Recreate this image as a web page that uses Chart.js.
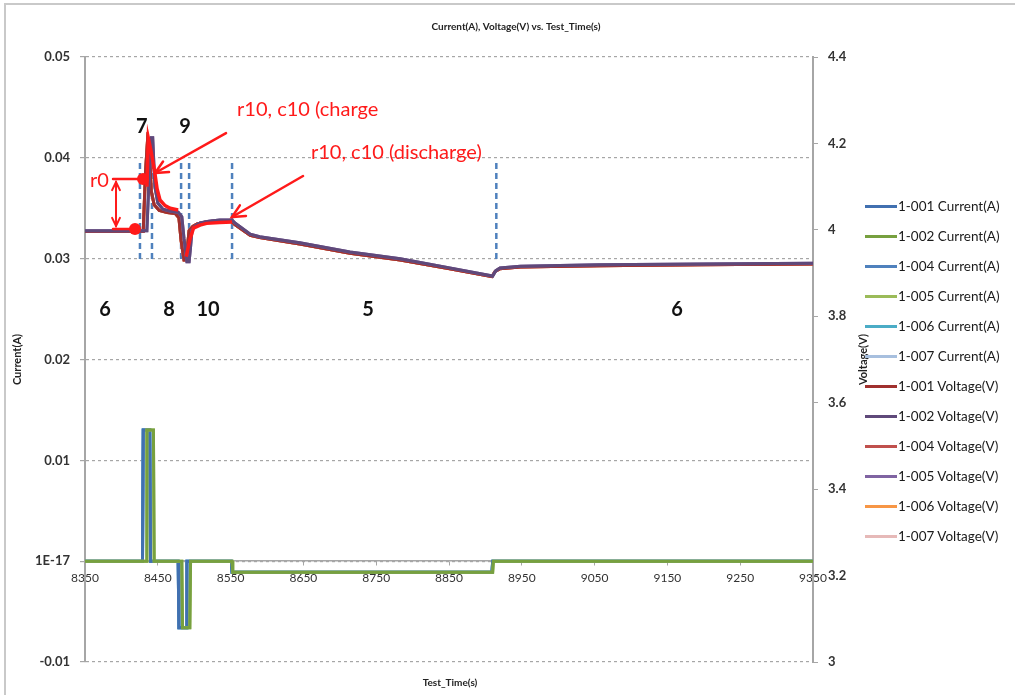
<!DOCTYPE html>
<html>
<head>
<meta charset="utf-8">
<title>Current(A), Voltage(V) vs. Test_Time(s)</title>
<script src="https://cdn.jsdelivr.net/npm/chart.js@4.4.1/dist/chart.umd.min.js"></script>
<style>
  html, body { margin: 0; padding: 0; background: #fff; }
  #wrap { position: relative; width: 1015px; height: 695px; overflow: hidden; }
  #frame { position: absolute; left: 4px; top: 3px; width: 1100px; height: 800px;
           border-left: 2px solid #c9c9c9; border-top: 2px solid #c9c9c9; pointer-events: none; }
  #legend { position: absolute; left: 865px; top: 191px; font: 13.5px Lato, sans-serif; color: #1a1a1a; }
  .row { height: 30px; display: flex; align-items: center; white-space: nowrap; }
  .swatch { display: inline-block; width: 32px; height: 3px; margin-right: 1px; }
</style>
</head>
<body>
<div id="wrap">
  <canvas id="chart" width="1015" height="695"></canvas>
  <div id="frame"></div>
  <div id="legend"></div>
</div>
<script>
// series names
const currentNames = ['1-001 Current(A)', '1-002 Current(A)', '1-004 Current(A)', '1-005 Current(A)', '1-006 Current(A)', '1-007 Current(A)'];
const voltageNames = ['1-001 Voltage(V)', '1-002 Voltage(V)', '1-004 Voltage(V)', '1-005 Voltage(V)', '1-006 Voltage(V)', '1-007 Voltage(V)'];

// current, cells following the earlier timing (1-001, 1-004, 1-006, 1-007)
const currentTimeA = [8350, 8429, 8430, 8439, 8440, 8478, 8479, 8489, 8490, 8551, 8552, 8909, 8910, 9350];
const currentA = [0, 0, 0.013, 0.013, 0, 0, -0.0066, -0.0066, 0, 0, -0.0011, -0.0011, 0, 0];
// current, cells a few seconds later (1-002, 1-005)
const currentTimeB = [8350, 8434, 8435, 8444, 8445, 8483, 8484, 8494, 8495, 8552, 8553, 8910, 8911, 9350];
const currentB = [0, 0, 0.013, 0.013, 0, 0, -0.0066, -0.0066, 0, 0, -0.0011, -0.0011, 0, 0];

// voltage
const voltTimeA = [8350, 8430, 8433, 8436, 8438, 8441, 8445, 8452, 8463, 8474, 8479, 8482, 8486, 8489, 8491, 8493, 8498, 8504, 8516, 8531, 8551, 8555, 8577, 8590, 8645, 8714, 8783, 8851, 8909, 8913, 8920, 8948, 9057, 9195, 9350];
const voltA = [3.996, 3.996, 4.13, 4.21, 4.20, 4.09, 4.058, 4.045, 4.04, 4.038, 4.028, 3.975, 3.93, 3.93, 3.965, 3.998, 4.008, 4.014, 4.018, 4.021, 4.021, 4.013, 3.987, 3.982, 3.967, 3.946, 3.93, 3.91, 3.892, 3.903, 3.91, 3.914, 3.917, 3.919, 3.921];
const voltTimeB = [8350, 8435, 8438, 8441, 8443, 8446, 8450, 8457, 8468, 8478, 8483, 8486, 8490, 8493, 8495, 8497, 8502, 8508, 8520, 8535, 8552, 8556, 8577, 8590, 8645, 8714, 8783, 8851, 8910, 8914, 8920, 8948, 9057, 9195, 9350];
const voltB = [3.998, 3.998, 4.12, 4.213, 4.213, 4.10, 4.062, 4.048, 4.043, 4.041, 4.03, 3.98, 3.926, 3.926, 3.96, 4.0, 4.01, 4.016, 4.02, 4.023, 4.023, 4.016, 3.99, 3.984, 3.97, 3.949, 3.933, 3.912, 3.893, 3.905, 3.912, 3.916, 3.919, 3.921, 3.923];

// hand drawn red traces over the relaxations
const chargeFitTime = [8435, 8437, 8441, 8446, 8449, 8453, 8460, 8467, 8478];
const chargeFit = [4.10, 4.212, 4.18, 4.131, 4.095, 4.069, 4.056, 4.05, 4.046];
const dischargeFitTime = [8489, 8494, 8499, 8508, 8517, 8535, 8552];
const dischargeFit = [3.938, 3.977, 4.004, 4.011, 4.015, 4.017, 4.018];

// step boundaries and step numbers
const markerTimes = [8425.5, 8442, 8482, 8493, 8552, 8915];
const phaseLabels = ['6', '7', '8', '9', '10', '5', '6'];
const phaseTimes = [8377.5, 8428, 8465.4, 8487.4, 8519, 8738.7, 9163.2];
const phaseLevels = [3.815, 4.24, 3.815, 4.24, 3.815, 3.815, 3.815];

// tick labels
const currentTickLabels = ['-0.01', '1E-17', '0.01', '0.02', '0.03', '0.04', '0.05'];
const voltTickLabels = ['3', '3.2', '3.4', '3.6', '3.8', '4', '4.2', '4.4'];

const currentColors = ['#4170B0', '#77A03F', '#4F81BD', '#9BBB59', '#4BACC6', '#A7BFDE'];
const voltageColors = ['#A0302E', '#5F497A', '#C0504D', '#8064A2', '#F79646', '#E6B9B8'];
const currentOrder = [9, 7, 10, 8, 11, 12];
const voltageOrder = [3, 1, 4, 2, 5, 6];
const red = '#FF1A1A';

const pts = (times, vals) => times.map((t, i) => ({x: t, y: vals[i]}));
const line = (label, data, color, axis, order, width) => ({
    label, data, borderColor: color, backgroundColor: color, yAxisID: axis, order,
    showLine: true, pointRadius: 0, borderWidth: width || 3, tension: 0
});

const datasets = [];
currentNames.forEach((n, i) => {
    const b = (i === 1 || i === 3);
    datasets.push(line(n, pts(b ? currentTimeB : currentTimeA, b ? currentB : currentA), currentColors[i], 'y', currentOrder[i]));
});
voltageNames.forEach((n, i) => {
    const b = (i === 1 || i === 3);
    datasets.push(line(n, pts(b ? voltTimeB : voltTimeA, b ? voltB : voltA), voltageColors[i], 'y2', voltageOrder[i]));
});
datasets.push(line('charge fit', pts(chargeFitTime, chargeFit), red, 'y2', 0, 3.5));
datasets.push(line('discharge fit', pts(dischargeFitTime, dischargeFit), red, 'y2', 0, 3.5));

// legend
const legend = document.getElementById('legend');
currentNames.concat(voltageNames).forEach((n, i) => {
    const c = i < 6 ? currentColors[i] : voltageColors[i - 6];
    legend.insertAdjacentHTML('beforeend', '<div class="row"><span class="swatch" style="background:' + c + '"></span>' + n + '</div>');
});

function arrowHead(ctx, x1, y1, x2, y2, len) {
    const a = Math.atan2(y2 - y1, x2 - x1);
    ctx.beginPath();
    ctx.moveTo(x2 - len * Math.cos(a - 0.45), y2 - len * Math.sin(a - 0.45));
    ctx.lineTo(x2, y2);
    ctx.lineTo(x2 - len * Math.cos(a + 0.45), y2 - len * Math.sin(a + 0.45));
    ctx.stroke();
}

const annotate = {
    id: 'annotate',
    beforeDatasetsDraw(chart) {
        const {ctx, scales: {x, y}} = chart;
        ctx.save();
        ctx.strokeStyle = '#4F81BD';
        ctx.lineWidth = 2.5;
        ctx.setLineDash([6, 4]);
        markerTimes.forEach(t => {
            const px = x.getPixelForValue(t);
            ctx.beginPath();
            ctx.moveTo(px, y.getPixelForValue(0.0395));
            ctx.lineTo(px, y.getPixelForValue(0.0297));
            ctx.stroke();
        });
        ctx.restore();
    },
    afterDatasetsDraw(chart) {
        const {ctx, scales: {x, y2}} = chart;
        const X = t => x.getPixelForValue(t), V = v => y2.getPixelForValue(v);
        ctx.save();
        ctx.strokeStyle = red;
        ctx.fillStyle = red;
        ctx.lineCap = 'round';
        ctx.lineWidth = 2.5;
        // r0 bracket
        ctx.beginPath();
        ctx.moveTo(X(8388.5), V(4.1177)); ctx.lineTo(X(8429.7), V(4.1177));
        ctx.moveTo(X(8388.5), V(4.002)); ctx.lineTo(X(8418.7), V(4.002));
        ctx.stroke();
        const ax = X(8392.6), top = V(4.1177) + 3, bot = V(4.002) - 3;
        ctx.lineWidth = 2;
        ctx.beginPath(); ctx.moveTo(ax, top); ctx.lineTo(ax, bot); ctx.stroke();
        arrowHead(ctx, ax, bot, ax, top, 9);
        arrowHead(ctx, ax, top, ax, bot, 9);
        [[8418.7, 4.002], [8429.7, 4.1177]].forEach(([t, v]) => {
            ctx.beginPath(); ctx.arc(X(t), V(v), 6, 0, 2 * Math.PI); ctx.fill();
        });
        // pointer arrows
        ctx.lineWidth = 2.5;
        [[8543.7, 4.224, 8446.2, 4.1316], [8649.5, 4.1246, 8551.9, 4.0298]].forEach(([t1, v1, t2, v2]) => {
            ctx.beginPath(); ctx.moveTo(X(t1), V(v1)); ctx.lineTo(X(t2), V(v2)); ctx.stroke();
            arrowHead(ctx, X(t1), V(v1), X(t2), V(v2), 14);
        });
        ctx.font = '20px Lato';
        ctx.textBaseline = 'middle';
        ctx.textAlign = 'left';
        ctx.fillText('r0', X(8356.9), V(4.114));
        ctx.fillText('r10, c10 (charge', X(8558.8), V(4.2774));
        ctx.fillText('r10, c10 (discharge)', X(8660.4), V(4.180));
        ctx.font = 'bold 20px Lato';
        ctx.fillStyle = '#111';
        ctx.textAlign = 'center';
        phaseLabels.forEach((s, i) => ctx.fillText(s, X(phaseTimes[i]), V(phaseLevels[i])));
        ctx.restore();
    },
    afterDraw(chart) {
        const {ctx, chartArea: a} = chart;
        const midY = (a.top + a.bottom) / 2;
        ctx.save();
        ctx.fillStyle = '#222';
        ctx.textAlign = 'center';
        ctx.textBaseline = 'middle';
        ctx.font = 'bold 10px Lato';
        ctx.fillText('Current(A), Voltage(V) vs. Test_Time(s)', 516, 27);
        ctx.fillText('Test_Time(s)', 450, 683);
        ctx.font = 'bold 11px Lato';
        ctx.translate(17, midY); ctx.rotate(-Math.PI / 2);
        ctx.fillText('Current(A)', 0, 0);
        ctx.setTransform(1, 0, 0, 1, 0, 0);
        ctx.translate(863, midY); ctx.rotate(-Math.PI / 2);
        ctx.fillText('Voltage(V)', 0, 0);
        ctx.restore();
    }
};

Chart.defaults.font.family = 'Lato, sans-serif';

new Chart(document.getElementById('chart'), {
    type: 'scatter',
    data: {datasets},
    options: {
        responsive: false,
        animation: false,
        events: [],
        layout: {padding: {left: 0, right: 152, top: 57, bottom: 33}},
        plugins: {legend: {display: false}, tooltip: {enabled: false}, title: {display: false}},
        scales: {
            x: {
                type: 'linear', min: 8350, max: 9350,
                position: {y: 0},
                ticks: {stepSize: 100, autoSkip: false, maxRotation: 0, padding: 6, color: '#333',
                        font: {size: 12}, callback: v => String(v)},
                grid: {drawOnChartArea: false, tickLength: 4, color: '#A6A6A6'},
                border: {color: '#A6A6A6', width: 1.5}
            },
            y: {
                position: 'left', min: -0.01, max: 0.05,
                afterFit: s => { s.width = 85; },
                ticks: {stepSize: 0.01, padding: 10, color: '#333', font: {size: 13, weight: 'bold'},
                        callback: (v, i) => currentTickLabels[i]},
                grid: {color: '#A6A6A6', lineWidth: 1.2, tickLength: 5, tickColor: '#A6A6A6'},
                border: {color: '#A6A6A6', width: 2, dash: [3, 3]}
            },
            y2: {
                position: 'right', min: 3, max: 4.4,
                afterFit: s => { s.width = 50; },
                ticks: {stepSize: 0.2, padding: 10, color: '#333', font: {size: 13, weight: 'bold'},
                        callback: (v, i) => voltTickLabels[i]},
                grid: {drawOnChartArea: false, tickLength: 5, tickColor: '#A6A6A6'},
                border: {color: '#A6A6A6', width: 2}
            }
        }
    },
    plugins: [annotate]
});
</script>
</body>
</html>
